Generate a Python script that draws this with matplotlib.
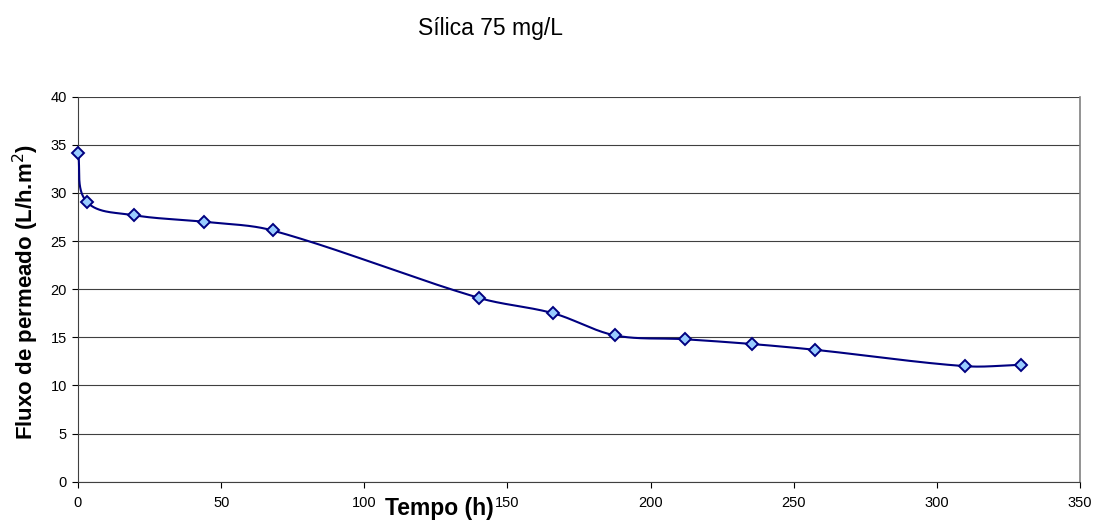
import numpy as np
import matplotlib
matplotlib.use("Agg")
import matplotlib.pyplot as plt

plt.rcParams['font.family'] = ['Liberation Sans', 'DejaVu Sans']

title = "Sílica 75 mg/L"
x_label = "Tempo (h)"
y_label = "Fluxo de permeado (L/h.m$^{2}$)"
tempo = [0, 3, 19.4, 44, 68, 140, 166, 187.6, 212, 235.6, 257.6, 310, 329.4]
fluxo = [34.2, 29.1, 27.7, 27.0, 26.1, 19.1, 17.5, 15.2, 14.8, 14.3, 13.7, 12.0, 12.15]
x_ticks = [0, 50, 100, 150, 200, 250, 300, 350]
y_ticks = [0, 5, 10, 15, 20, 25, 30, 35, 40]

X0, X1, Y0, Y1 = 78, 1080, 481.7, 96.7
sxp = (X1 - X0) / 350.0
syp = (Y0 - Y1) / 40.0


def smooth(xs, ys, n=60):
    # work in pixel-like space so tangent lengths reflect the drawn geometry
    P = np.column_stack([np.asarray(xs) * sxp, np.asarray(ys) * syp]).astype(float)
    m = len(P)
    T = []
    for i in range(m):
        a = P[i - 1] if i > 0 else P[i]
        b = P[i + 1] if i < m - 1 else P[i]
        d = b - a
        T.append(d / np.linalg.norm(d))
    out = [P[0]]
    for i in range(m - 1):
        p1, p2 = P[i], P[i + 1]
        L = np.linalg.norm(p2 - p1) / 3.0
        c1 = p1 + T[i] * L
        c2 = p2 - T[i + 1] * L
        t = np.linspace(0, 1, n)[1:, None]
        seg = ((1 - t) ** 3) * p1 + 3 * ((1 - t) ** 2) * t * c1 + 3 * (1 - t) * t ** 2 * c2 + t ** 3 * p2
        out.extend(seg)
    out = np.array(out)
    return out[:, 0] / sxp, out[:, 1] / syp


fig = plt.figure(figsize=(10.96, 5.22), dpi=100)
ax = fig.add_axes([X0 / 1096, 1 - Y0 / 522, (X1 - X0) / 1096, (Y0 - Y1) / 522])

sx, sy = smooth(tempo, fluxo)
ax.plot(sx, sy, color='#000080', lw=1.5, zorder=3, clip_on=False)
ax.plot(tempo, fluxo, linestyle='none', marker='D', markersize=6.3,
        markerfacecolor='#99CCFF', markeredgecolor='#000080', markeredgewidth=1.4,
        zorder=4, clip_on=False)

ax.set_xlim(0, 350)
ax.set_ylim(0, 40)
ax.set_xticks(x_ticks)
ax.set_yticks(y_ticks)
ax.tick_params(axis='both', labelsize=10.5, length=4, width=0.8, direction='out', colors='#000000')
ax.tick_params(axis='x', pad=6)
ax.tick_params(axis='y', pad=4)
ax.yaxis.grid(True, color='#404040', lw=0.8)
ax.set_axisbelow(True)
ax.spines['top'].set_visible(False)
ax.spines['right'].set_color('#808080')
ax.spines['right'].set_linewidth(1.2)
ax.spines['left'].set_color('#404040')
ax.spines['bottom'].set_color('#404040')

fig.text(26 / 1096, 1 - 292 / 522, y_label, fontsize=16, fontweight='bold',
         rotation=90, ha='center', va='center')
fig.text(439 / 1096, 1 - 508 / 522, x_label, fontsize=16.5, fontweight='bold', ha='center', va='center')
fig.text(490 / 1096, 1 - 34.5 / 522, title, fontsize=16.5, ha='center', va='baseline')

fig.savefig('out.png', dpi=100)
